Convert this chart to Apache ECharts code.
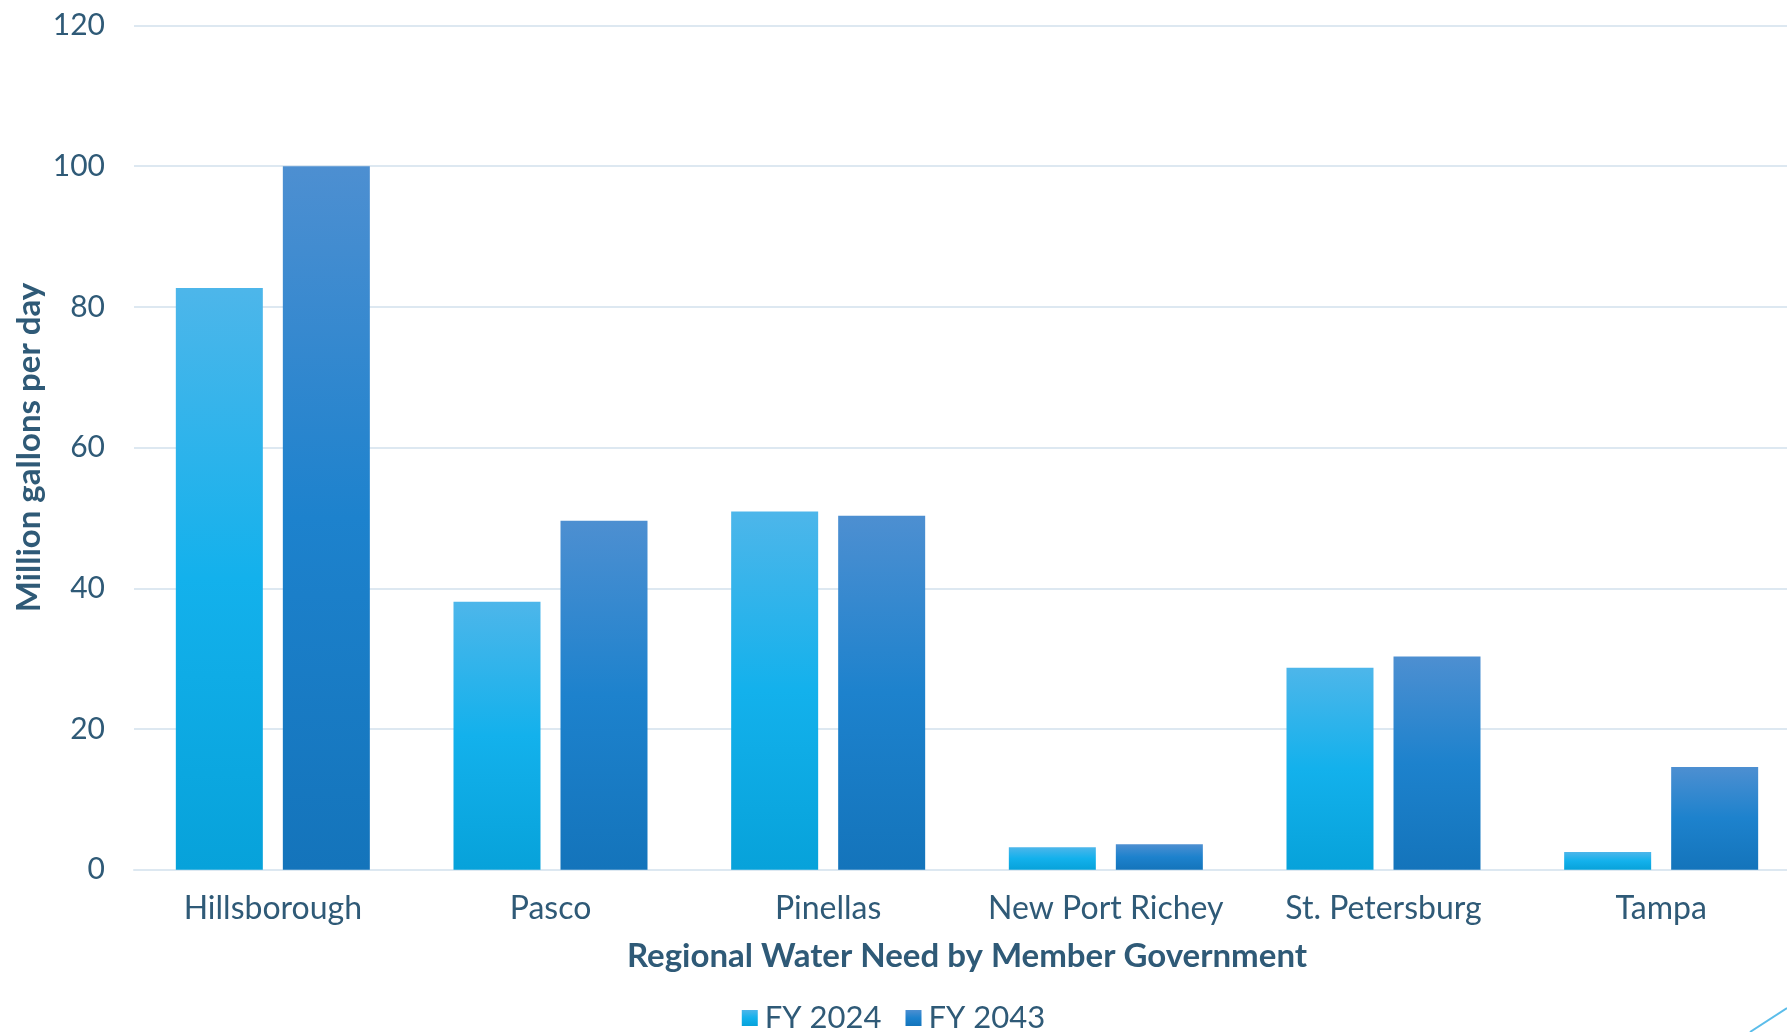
<!DOCTYPE html>
<html>
<head>
<meta charset="utf-8">
<script src="https://cdn.jsdelivr.net/npm/echarts@6/dist/echarts.min.js"></script>
<style>
  html, body { margin: 0; padding: 0; background: #ffffff; }
  #chart { width: 1787px; height: 1032px; }
</style>
</head>
<body>
<div id="chart"></div>
<script>
const categories = ['Hillsborough', 'Pasco', 'Pinellas', 'New Port Richey', 'St. Petersburg', 'Tampa'];
const fy2024 = [82.7, 38.1, 50.9, 3.2, 28.7, 2.5];
const fy2043 = [100.0, 49.6, 50.3, 3.6, 30.3, 14.6];
const seriesNames = ['FY 2024', 'FY 2043'];
const yTicks = [0, 20, 40, 60, 80, 100, 120];

const textColor = '#2f5a77';
const gridColor = '#dde8f1';
const mainFont = 'Lato';

function grad(c0, c1, c2) {
  return new echarts.graphic.LinearGradient(0, 0, 0, 1, [
    { offset: 0, color: c0 },
    { offset: 0.5, color: c1 },
    { offset: 1, color: c2 }
  ]);
}

const chart = echarts.init(document.getElementById('chart'), null, { renderer: 'canvas' });
chart.setOption({
  animation: false,
  backgroundColor: '#ffffff',
  grid: {
    left: 134, right: -13, top: 25.5, bottom: 162.3,
    containLabel: false,
    outerBoundsMode: 'none'
  },
  legend: {
    data: seriesNames,
    left: 'center',
    top: 1002,
    padding: 0,
    itemWidth: 16,
    itemHeight: 16,
    itemGap: 24,
    icon: 'rect',
    textStyle: { color: textColor, fontFamily: mainFont, fontSize: 31, lineHeight: 32, padding: [0, 0, 0, 2] }
  },
  xAxis: {
    type: 'category',
    data: categories,
    name: 'Regional Water Need by Member Government',
    nameLocation: 'middle',
    nameGap: 70,
    nameMoveOverlap: false,
    nameTextStyle: { color: textColor, fontFamily: mainFont, fontWeight: 'bold', fontSize: 33, lineHeight: 34 },
    axisLine: { show: true, lineStyle: { color: gridColor, width: 2 } },
    axisTick: { show: false },
    axisLabel: { color: textColor, fontFamily: mainFont, fontSize: 32, lineHeight: 32, margin: 23, interval: 0 }
  },
  yAxis: {
    type: 'value',
    min: yTicks[0],
    max: yTicks[yTicks.length - 1],
    interval: 20,
    name: 'Million gallons per day',
    nameLocation: 'middle',
    nameRotate: 90,
    nameGap: 88,
    nameMoveOverlap: false,
    nameTextStyle: { color: textColor, fontFamily: mainFont, fontWeight: 'bold', fontSize: 33, lineHeight: 34 },
    axisLine: { show: false },
    axisTick: { show: false },
    axisLabel: { color: textColor, fontFamily: mainFont, fontSize: 30, margin: 29 },
    splitLine: { show: true, lineStyle: { color: gridColor, width: 2 } }
  },
  series: [
    {
      name: seriesNames[0],
      type: 'bar',
      data: fy2024,
      barWidth: 87,
      barGap: '23%',
      itemStyle: { color: grad('#4db6ea', '#13b1ec', '#07a2da') }
    },
    {
      name: seriesNames[1],
      type: 'bar',
      data: fy2043,
      barWidth: 87,
      barGap: '23%',
      itemStyle: { color: grad('#4d8fd1', '#1d82cd', '#1474bb') }
    }
  ],
  graphic: [
    {
      type: 'line',
      shape: { x1: 1750, y1: 1032, x2: 1787, y2: 1008 },
      style: { stroke: '#5bbdea', lineWidth: 2 },
      silent: true
    }
  ]
});
</script>
</body>
</html>
